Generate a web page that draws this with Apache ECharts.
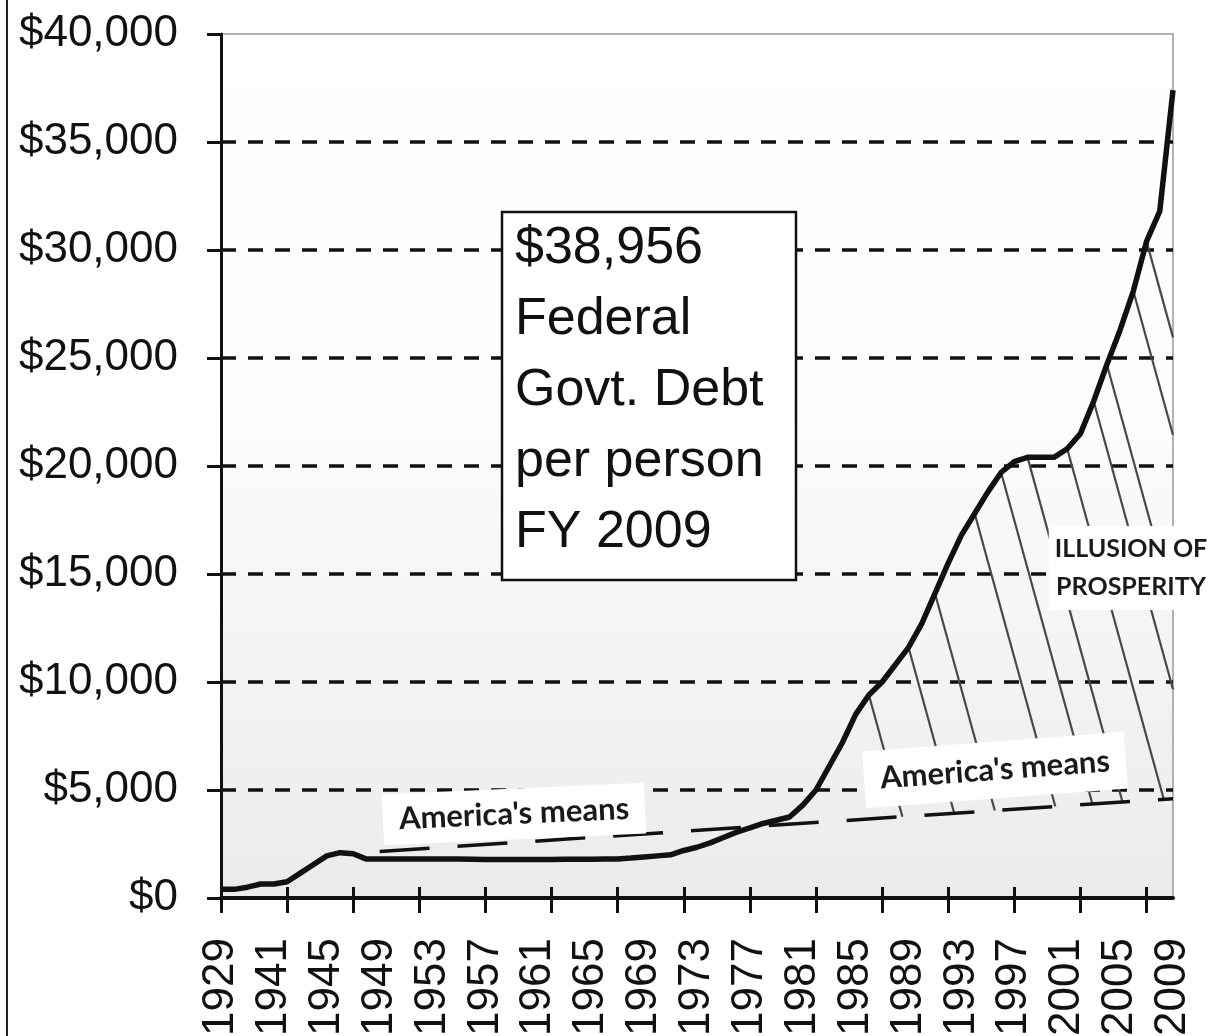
<!DOCTYPE html>
<html>
<head>
    <meta charset="utf-8">
    <script src="https://cdn.jsdelivr.net/npm/echarts@6.0.0/dist/echarts.min.js"></script>
    <style>
        html, body { margin: 0; padding: 0; background: #fff; }
    </style>
</head>
<body>
<div id="main" style="width: 1213px;height:1036px;"></div>
<script type="text/javascript">
    // categories: 1929, then every year 1938 - 2009
    var years = ['1929', '1938', '1939', '1940', '1941', '1942', '1943', '1944', '1945', '1946',
        '1947', '1948', '1949', '1950', '1951', '1952', '1953', '1954', '1955', '1956',
        '1957', '1958', '1959', '1960', '1961', '1962', '1963', '1964', '1965', '1966',
        '1967', '1968', '1969', '1970', '1971', '1972', '1973', '1974', '1975', '1976',
        '1977', '1978', '1979', '1980', '1981', '1982', '1983', '1984', '1985', '1986',
        '1987', '1988', '1989', '1990', '1991', '1992', '1993', '1994', '1995', '1996',
        '1997', '1998', '1999', '2000', '2001', '2002', '2003', '2004', '2005', '2006',
        '2007', '2008', '2009'];

    // federal debt per person, dollars
    var debt = [400, 400, 500, 650, 650, 750, 1150, 1550, 1950, 2100,
        2050, 1800, 1800, 1800, 1800, 1800, 1800, 1800, 1800, 1790,
        1780, 1780, 1780, 1780, 1780, 1780, 1790, 1790, 1790, 1800,
        1810, 1850, 1900, 1950, 2000, 2200, 2350, 2550, 2800, 3050,
        3250, 3450, 3600, 3750, 4300, 5000, 6100, 7200, 8500, 9400,
        10000, 10800, 11600, 12700, 14100, 15500, 16800, 17800, 18800, 19700,
        20200, 20400, 20400, 20400, 20800, 21500, 23000, 24700, 26300, 28100,
        30400, 31800, 37400];

    // "America's means" trend line, start and end
    var meansYears = ['1949', '2009'];
    var meansValues = [2150, 4600];

    // hand drawn hatching starts on the curve at these years
    var hatchYears = ['1986', '1989', '1991', '1994', '1996', '1998', '2001', '2003', '2004', '2006', '2007'];

    var yTicks = [0, 5000, 10000, 15000, 20000, 25000, 30000, 35000, 40000];

    var boxLines = ['$38,956', 'Federal', 'Govt. Debt', 'per person', 'FY 2009'];

    var chart = echarts.init(document.getElementById('main'));

    var m0 = years.indexOf(meansYears[0]), m1 = years.indexOf(meansYears[1]);
    var meansSlope = (meansValues[1] - meansValues[0]) / (m1 - m0);
    var meansPts = [[m0, meansValues[0]], [m1, meansValues[1]]];

    // hatch lines fall to the right: 0.45 category per $1000 drop
    var k = 0.45 / 1000;
    var lastIdx = years.length - 1;
    var hatchData = hatchYears.map(function (y) {
        var s = years.indexOf(y), v = debt[s];
        var val = (meansValues[0] + (s - m0 + k * v) * meansSlope) / (1 + k * meansSlope);
        var e = s + k * (v - val);
        if (e > lastIdx) {
            e = lastIdx;
            val = v - (lastIdx - s) / k;
        }
        return {coords: [[s, v], [e, val]]};
    });

    function money(v) {
        return '$' + Number(v).toLocaleString('en-US');
    }

    chart.setOption({
        animation: false,
        backgroundColor: '#fff',
        grid: {
            left: 221,
            right: 40,
            top: 34,
            bottom: 138,
            outerBoundsMode: 'none',
            show: true,
            borderColor: '#9a9a9a',
            borderWidth: 1.5,
            backgroundColor: new echarts.graphic.LinearGradient(0, 0, 0, 1, [
                {offset: 0, color: '#ffffff'},
                {offset: 0.45, color: '#fcfcfc'},
                {offset: 1, color: '#ebebeb'}
            ])
        },
        xAxis: [{
            type: 'category',
            data: years,
            boundaryGap: false,
            axisLine: {lineStyle: {color: '#111', width: 4}},
            axisTick: {interval: 4, length: 15, lineStyle: {color: '#111', width: 3}},
            axisLabel: {
                interval: 3,
                rotate: 90,
                margin: 40,
                color: '#111',
                fontFamily: 'Liberation Sans',
                fontSize: 44
            },
            splitLine: {show: false}
        }, {
            type: 'category',
            data: years,
            boundaryGap: false,
            position: 'bottom',
            axisLine: {show: false},
            axisTick: {interval: 4, inside: true, length: 11, lineStyle: {color: '#111', width: 3}},
            axisLabel: {show: false},
            splitLine: {show: false}
        }, {
            type: 'value',
            min: 0,
            max: lastIdx,
            show: false
        }],
        yAxis: {
            type: 'value',
            min: yTicks[0],
            max: yTicks[yTicks.length - 1],
            interval: 5000,
            axisLine: {show: true, lineStyle: {color: '#111', width: 3}},
            axisTick: {show: true, length: 14, lineStyle: {color: '#111', width: 3}},
            axisLabel: {
                formatter: money,
                margin: 43,
                color: '#111',
                fontFamily: 'Liberation Sans',
                fontSize: 44
            },
            splitLine: {
                show: true,
                showMinLine: false,
                showMaxLine: false,
                lineStyle: {color: '#111', width: 3.5, type: [15, 12]}
            }
        },
        series: [
            {
                name: 'hatch',
                type: 'lines',
                coordinateSystem: 'cartesian2d',
                xAxisIndex: 2,
                yAxisIndex: 0,
                silent: true,
                z: 2,
                lineStyle: {color: '#484848', width: 2.2, opacity: 1, curveness: 0},
                data: hatchData
            },
            {
                name: "America's means",
                type: 'line',
                xAxisIndex: 2,
                data: meansPts,
                symbol: 'none',
                z: 3,
                lineStyle: {color: '#111', width: 3.5, type: [50, 28]}
            },
            {
                name: 'debt',
                type: 'line',
                data: debt,
                symbol: 'none',
                z: 5,
                lineStyle: {color: '#111', width: 5.5}
            }
        ],
        graphic: [
            {
                type: 'line',
                shape: {x1: 7, y1: 0, x2: 7, y2: 1036},
                style: {stroke: '#222', lineWidth: 2}
            },
            {
                type: 'rect',
                z: 100,
                shape: {x: 502, y: 212, width: 294, height: 368},
                style: {fill: '#fff', stroke: '#111', lineWidth: 2.5}
            },
            {
                type: 'text',
                z: 101,
                x: 515,
                y: 213,
                style: {
                    text: boxLines.join('\n'),
                    font: '52px "Liberation Sans"',
                    fill: '#111',
                    lineHeight: 71
                }
            },
            {
                type: 'text',
                z: 101,
                x: 1131,
                y: 568,
                style: {
                    text: 'ILLUSION OF\nPROSPERITY',
                    font: 'bold 25px Lato',
                    fill: '#1a1a1a',
                    align: 'center', textAlign: 'center',
                    verticalAlign: 'middle', textVerticalAlign: 'middle',
                    lineHeight: 38,
                    backgroundColor: '#fff',
                    padding: [4, 6]
                }
            },
            {
                type: 'text',
                z: 101,
                x: 514,
                y: 814,
                rotation: 0.045,
                style: {
                    text: "America's means",
                    font: 'bold 31px Lato',
                    fill: '#1a1a1a',
                    align: 'center', textAlign: 'center',
                    verticalAlign: 'middle', textVerticalAlign: 'middle',
                    backgroundColor: '#fff',
                    padding: [14, 16, 6, 16]
                }
            },
            {
                type: 'text',
                z: 101,
                x: 995,
                y: 770,
                rotation: 0.075,
                style: {
                    text: "America's means",
                    font: 'bold 31px Lato',
                    fill: '#1a1a1a',
                    align: 'center', textAlign: 'center',
                    verticalAlign: 'middle', textVerticalAlign: 'middle',
                    backgroundColor: '#fff',
                    padding: [14, 16, 12, 16]
                }
            }
        ]
    });
</script>
</body>
</html>
